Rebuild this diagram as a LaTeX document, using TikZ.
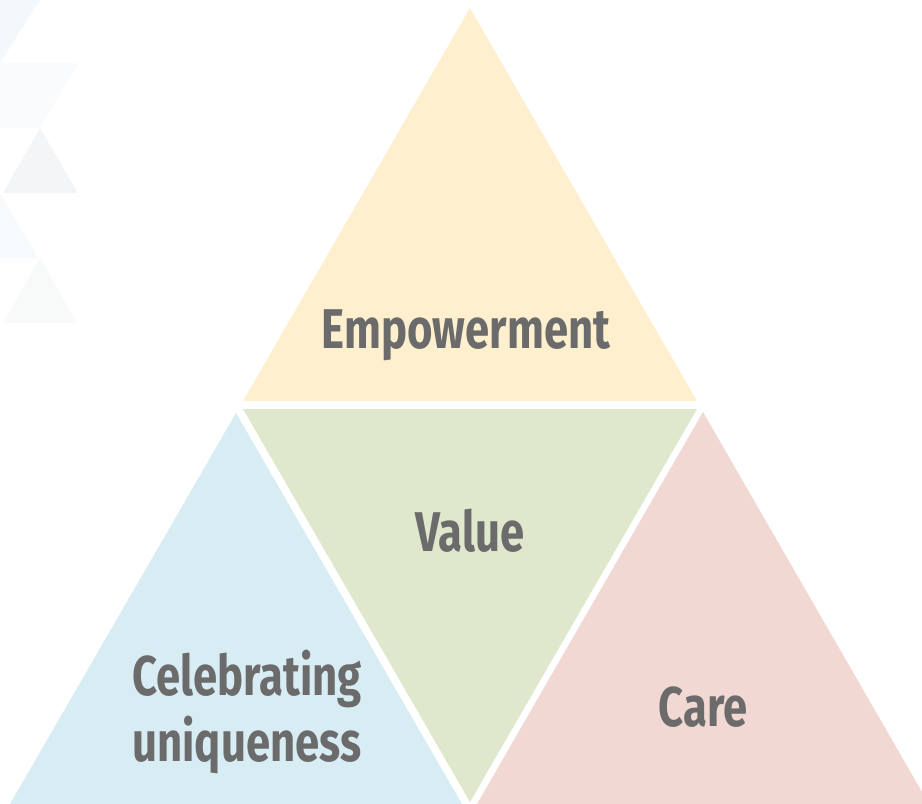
\documentclass[tikz,border=0pt]{standalone}
\usepackage{fontspec}
\newfontfamily\lblfont[FakeStretch=0.78]{Fira Sans}
\definecolor{cyel}{HTML}{FEEFCF}
\definecolor{cgrn}{HTML}{DFE8CC}
\definecolor{cblu}{HTML}{D8ECF4}
\definecolor{cred}{HTML}{F2D8D3}
\definecolor{ctxt}{HTML}{6B6B6B}
\definecolor{fa}{HTML}{F3F8FC}
\definecolor{fb}{HTML}{F9FBFC}
\definecolor{fc}{HTML}{F4F5F7}
\definecolor{fd}{HTML}{F7FAFC}
\definecolor{fe}{HTML}{F8FAF9}
\tikzset{lbl/.style={text=ctxt,font=\lblfont\bfseries\fontsize{56}{66}\selectfont,align=center,inner sep=0pt}}
\begin{document}
\begin{tikzpicture}[x=1pt,y=-1pt]
\useasboundingbox (0,0) rectangle (922,804);
% faint background triangles
\fill[fa] (0,0) -- (40,0) -- (0,63) -- cycle;
\fill[fb] (0,63) -- (78,63) -- (40,128) -- (0,128) -- cycle;
\fill[fc] (40,128) -- (78,193) -- (3,193) -- cycle;
\fill[fd] (0,193) -- (38,258) -- (0,258) -- cycle;
\fill[fe] (40,258) -- (77,323) -- (3,323) -- cycle;
% main triangles
\fill[cyel] (470,8) -- (697,401) -- (243,401) -- cycle;
\fill[cgrn] (243,409) -- (697,409) -- (470,802) -- cycle;
\fill[cblu] (236,413) -- (462,804) -- (10,804) -- cycle;
\fill[cred] (703,412) -- (929,804) -- (477,804) -- cycle;
\node[lbl] (emp) at (466,335) {Empowerment};
\node[lbl] (val) at (470,531) {Value};
\node[lbl] (cel) at (247,712) {Celebrating\\uniqueness};
\node[lbl] (care) at (703,707) {Care};
\end{tikzpicture}
\end{document}
